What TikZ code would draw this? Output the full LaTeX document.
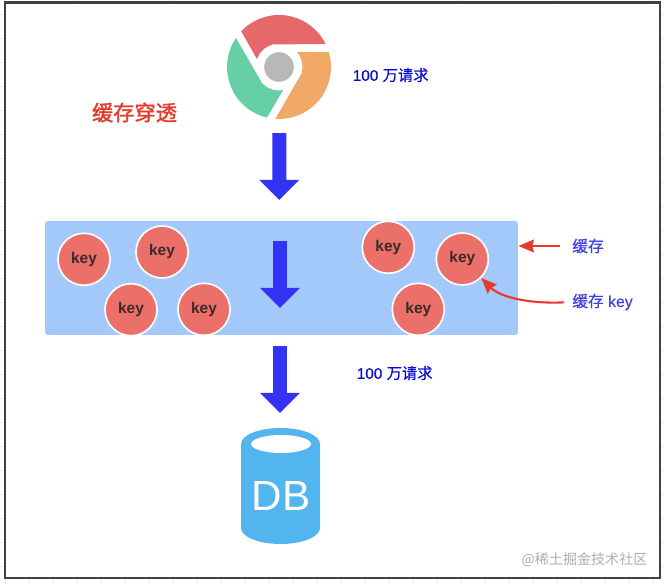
\documentclass[tikz,border=0pt]{standalone}
\usepackage{fontspec}
\setmainfont{Liberation Sans}
\newfontfamily\cjk{Noto Sans CJK SC}
\newfontfamily\cjkmed[FakeBold=0.5]{Noto Sans CJK SC}
\newfontfamily\cjkhead[FakeBold=1.6]{Noto Sans CJK SC}
\newfontfamily\latinmed[FakeBold=0.5]{Liberation Sans}
\usetikzlibrary{arrows.meta, shapes.arrows}
\definecolor{bandblue}{HTML}{A3C9FB}
\definecolor{keyred}{HTML}{EB706A}
\definecolor{keytext}{HTML}{3A2A2C}
\definecolor{flowblue}{HTML}{3333F6}
\definecolor{countblue}{HTML}{0B0BD0}
\definecolor{noteblue}{HTML}{4040E0}
\definecolor{notered}{HTML}{E53A2C}
\definecolor{dbblue}{HTML}{52B5EE}
\definecolor{framegray}{HTML}{404040}
\definecolor{tickgray}{HTML}{EBEBEB}
\tikzset{
  keynode/.style={circle, draw=white, line width=1.2pt, fill=keyred, minimum size=37pt, inner sep=0pt, text=keytext, font=\fontsize{11}{12}\selectfont\bfseries},
  flowarrow/.style={single arrow, single arrow head extend=9.25pt, single arrow tip angle=90, single arrow head indent=0pt, minimum width=28pt, minimum height=47.6pt, inner sep=0pt, fill=flowblue, rotate=-90},
  countlabel/.style={anchor=west, inner sep=0pt, text=countblue, font=\fontsize{10.9}{12}\selectfont\latinmed},
  notelabel/.style={anchor=west, inner sep=0pt, text=noteblue, font=\fontsize{11.2}{12}\selectfont\latinmed},
  notearrow/.style={draw=notered, line width=1.5pt, -{Stealth[inset=1pt, length=11pt, width=9pt]}}
}
\begin{document}
\begin{tikzpicture}[x=0.025cm, y=0.025cm]
\useasboundingbox (0,0) rectangle (664,584);

% Faint page grid outside the frame
\foreach \tickx in {5,29,...,653}
  \draw[tickgray, line width=0.4pt] (\tickx,0) -- (\tickx,6);
\foreach \tickx in {77,173,...,653}
  \draw[tickgray, line width=0.4pt] (\tickx,581) -- (\tickx,584);
\foreach \ticky in {18,42,...,570}
  \draw[tickgray, line width=0.4pt] (0,\ticky) -- (4,\ticky) (660,\ticky) -- (664,\ticky);
\draw[framegray, line width=1.7pt] (5,5.7) rectangle (660,581.3);

% Browser icon
\coordinate (browser) at (279,517);
\foreach \ang/\col in {0/E5696B, -120/F0A866, 120/66CFA6}
{
  \definecolor{segcol}{HTML}{\col}
  \fill[segcol] ([shift={(136.6+\ang:52)}]browser) arc (136.6+\ang:26+\ang:52)
    -- ([shift={(105+\ang:23.5)}]browser) arc (105+\ang:160+\ang:23.5) -- cycle;
}
\fill[black!28] (browser) circle (14.8);

% Labels on top
\node[text=notered, inner sep=0pt, font=\fontsize{15.1}{18}\selectfont\cjkhead] (title) at (134.5,471.5) {缓存穿透};
\node[countlabel] (countone) at (352.5,509) {100 {\cjkmed 万请求}};

% Cache band with keys
\node[rectangle, rounded corners=2pt, fill=bandblue, minimum width=336.3pt, minimum height=81pt, inner sep=0pt] (band) at (281.5,306) {};
\node[keynode] (keya) at (84,324.7) {key};
\node[keynode] (keyb) at (162,332) {key};
\node[keynode] (keyc) at (131,274.3) {key};
\node[keynode] (keyd) at (204,274.7) {key};
\node[keynode] (keye) at (388.3,336.7) {key};
\node[keynode] (keyf) at (462.3,325) {key};
\node[keynode] (keyg) at (418.3,274.7) {key};

% Request flow
\node[flowarrow] (flowone) at (279.3,421) {\rule{0pt}{9.5pt}};
\node[flowarrow] (flowtwo) at (280,313) {\rule{0pt}{9.5pt}};
\node[flowarrow] (flowthree) at (280,208) {\rule{0pt}{9.5pt}};
\node[countlabel] (counttwo) at (356.5,211) {100 {\cjkmed 万请求}};

% Notes at the right
\node[notelabel] (cachenote) at (572,338) {\cjkmed 缓存};
\node[notelabel] (keynote) at (572,282) {{\cjkmed 缓存} key};
\coordinate (bandedge) at (518.3,338);
\draw[notearrow, shorten <=12pt*0.711] (cachenote.west) -- (bandedge);
\draw[notearrow, shorten <=8pt*0.711] (keynote.west) .. controls (528,280) and (500,287) .. (keyf.south east);

% Database
\fill[dbblue] (241,140) arc (180:0:39.5 and 16) -- (320,56) arc (0:-180:39.5 and 16) -- cycle;
\fill[white] (281,140) ellipse (30 and 9);
\node[text=white, inner sep=0pt, font=\fontsize{30}{36}\selectfont] (dblabel) at (281,88) {DB};

% Watermark
\node[text=black!32, inner sep=0pt, font=\fontsize{10}{12}\selectfont\cjk] (mark) at (584.5,24) {@稀土掘金技术社区};
\end{tikzpicture}
\end{document}
